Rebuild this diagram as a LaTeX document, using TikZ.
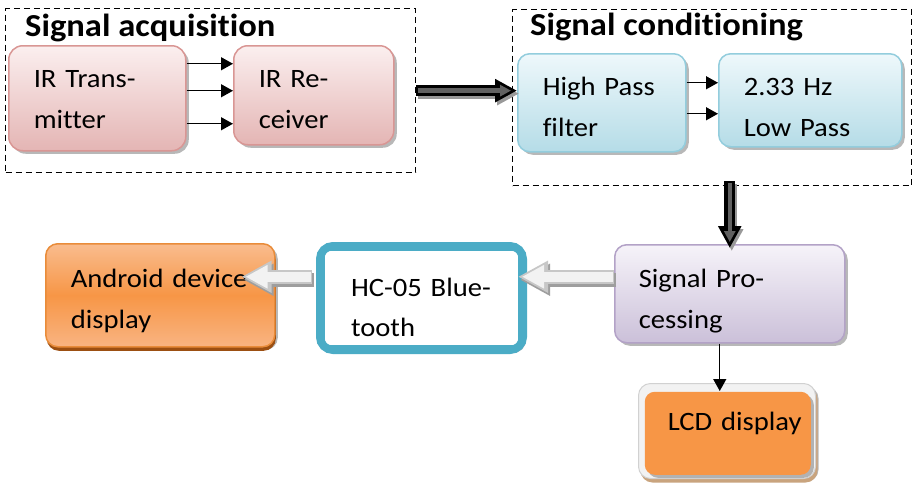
\documentclass[tikz,border=0pt]{standalone}
\usepackage{fontspec}
\setmainfont{Carlito}[FakeStretch=1.08,Ligatures=NoCommon]
\usetikzlibrary{shadows,arrows.meta,calc}
\definecolor{pinkTop}{HTML}{FBEFEF}
\definecolor{pinkBot}{HTML}{E4B5B4}
\definecolor{pinkLine}{HTML}{D99694}
\definecolor{blueTop}{HTML}{EEF8FB}
\definecolor{blueBot}{HTML}{B5DCE7}
\definecolor{blueLine}{HTML}{93CDDD}
\definecolor{purTop}{HTML}{F6F3F9}
\definecolor{purBot}{HTML}{CBC0D9}
\definecolor{purLine}{HTML}{B3A2C7}
\definecolor{orTop}{HTML}{F9BC8E}
\definecolor{orMid}{HTML}{F79646}
\definecolor{orBot}{HTML}{F9B482}
\definecolor{orLine}{HTML}{E98C3A}
\definecolor{orShadow}{HTML}{9C4F12}
\definecolor{hcTeal}{HTML}{4BACC6}
\definecolor{lcdShadow}{HTML}{C9A47E}
\newcommand\bodyfont{\fontsize{26.5}{40.5}\selectfont}
\newcommand\headfont{\fontsize{32}{36}\selectfont\bfseries}
\newcommand\twolines[3]{\rule{0pt}{#1pt}#2\\#3\rule[-7pt]{0pt}{7pt}}
\begin{document}
\begin{tikzpicture}[x=1pt,y=-1pt,
  every node/.style={inner sep=0pt},
  box/.style={rounded corners=14pt, line width=1.5pt, anchor=north west, align=left,
    inner xsep=25pt, inner ysep=0pt, font=\bodyfont,
    drop shadow={shadow xshift=3pt, shadow yshift=-3pt, opacity=0.5, fill=black!55}},
  pinkbox/.style={box, draw=pinkLine, top color=pinkTop, bottom color=pinkBot},
  bluebox/.style={box, draw=blueLine, top color=blueTop, bottom color=blueBot},
  purbox/.style={box, draw=purLine, top color=purTop, bottom color=purBot},
  orbox/.style={box, draw=orLine, top color=orTop, bottom color=orBot, middle color=orMid,
    drop shadow={shadow xshift=1pt, shadow yshift=-4pt, opacity=1, fill=orShadow}},
  dashbox/.style={draw, dash pattern=on 6pt off 4pt, line width=1.3pt, anchor=north west},
  head/.style={anchor=base west, font=\headfont},
  sarrow/.style={draw, line width=1.3pt, -{Triangle[length=12pt,width=13pt]}},
  bshadow/.style={draw=black!40, line width=11pt, -{Triangle[length=22pt,width=22pt]},
    transform canvas={xshift=2pt,yshift=-3pt}},
  bout/.style={draw=black, line width=11pt, -{Triangle[length=22pt,width=22pt]}},
  bin/.style={draw=black!62, line width=4.5pt, -{Triangle[length=11pt,width=11pt]},
    shorten >=6pt, shorten <=1.5pt},
  lshadow/.style={draw=black!38, line width=14pt, -{Triangle[length=30pt,width=30pt]},
    transform canvas={xshift=2pt,yshift=-3pt}},
  lout/.style={draw=black!22, line width=14pt, -{Triangle[length=30pt,width=30pt]}},
  lin/.style={draw=black!5, line width=10pt, -{Triangle[length=22pt,width=22pt]},
    shorten >=4pt, shorten <=1.5pt}
]
\fill[white] (0,0) rectangle (913,485);
\useasboundingbox (0,0) rectangle (913,485);

% group frames
\node[dashbox, minimum width=410pt, minimum height=164pt] (acq) at (5,8) {};
\node[dashbox, minimum width=399pt, minimum height=176pt] (cond) at (512,9) {};
\node[head] (acqh) at (25,36) {Signal acquisition};
\node[head] (condh) at (530,35) {Signal conditioning};

% blocks
\node[pinkbox, minimum width=177pt, minimum height=105pt, text width=127pt] (tx) at (8,45)
  {\twolines{26.5}{IR Trans-}{mitter}};
\node[pinkbox, minimum width=160pt, minimum height=99pt, text width=110pt] (rx) at (233,45)
  {\twolines{32.5}{IR Re-}{ceiver}};
\node[bluebox, minimum width=168pt, minimum height=98pt, text width=118pt, rounded corners=12pt] (hp) at (517,53)
  {\twolines{33.5}{High Pass}{filter}};
\node[bluebox, minimum width=183pt, minimum height=93pt, text width=133pt, rounded corners=12pt] (lp) at (718,53)
  {\twolines{38.5}{2.33 Hz}{Low Pass}};
\node[purbox, minimum width=230pt, minimum height=98pt, text width=182pt, inner xsep=24pt, rounded corners=12pt] (sp) at (614,244)
  {\twolines{35.5}{Signal Pro-}{cessing}};
\node[box, draw=hcTeal, line width=8pt, fill=white, drop shadow={opacity=0}, minimum width=203pt, minimum height=104pt,
  text width=141pt, inner xsep=31pt, rounded corners=13pt] (hc) at (316,242)
  {\twolines{43.5}{HC-05 Blue-}{tooth}};
\draw[hcTeal, line width=1.6pt, rounded corners=7pt]
  ([shift={(8pt,-8pt)}]hc.north west) rectangle ([shift={(-8pt,8pt)}]hc.south east);
\node[orbox, minimum width=229pt, minimum height=103pt, text width=179pt, rounded corners=12pt] (and) at (45,243)
  {\twolines{32.5}{Android device}{display}};
\node[box, fill=black!5, draw=black!18, line width=1pt, rounded corners=12pt, minimum width=177pt, minimum height=95pt,
  drop shadow={shadow xshift=2pt, shadow yshift=-4pt, opacity=1, fill=lcdShadow}] (lcdo) at (638,383) {};
\node[box, fill=orMid, draw=none, drop shadow={opacity=0}, rounded corners=10pt, minimum width=166pt, minimum height=83pt,
  text width=120pt, inner xsep=23pt] (lcd) at (644,391)
  {\mbox{\rule[-24pt]{0pt}{43pt}LCD display}};

% small arrows
\draw[sarrow] ([yshift=34.5pt]tx.east) -- ([yshift=34.5pt]tx.east -| rx.west);
\draw[sarrow] ([yshift=7.5pt]tx.east) -- ([yshift=7.5pt]tx.east -| rx.west);
\draw[sarrow] ([yshift=-25.5pt]tx.east) -- ([yshift=-25.5pt]tx.east -| rx.west);
\draw[sarrow] ([yshift=20pt]hp.east) -- ([yshift=20pt]hp.east -| lp.west);
\draw[sarrow] ([yshift=-11pt]hp.east) -- ([yshift=-11pt]hp.east -| lp.west);
\draw[sarrow] ([xshift=-10pt]sp.south) -- ([xshift=-10pt]sp.south |- lcd.north);

% thick dark arrows
\draw[bshadow] (acq.east) -- (acq.east -| hp.west);
\draw[bout] (acq.east) -- (acq.east -| hp.west);
\draw[bin] (acq.east) -- (acq.east -| hp.west);
\coordinate (dtop) at ([yshift=5pt]cond.south -| sp.north);
\draw[bshadow] (dtop) -- ([yshift=-4pt]sp.north);
\draw[bout] (dtop) -- ([yshift=-4pt]sp.north);
\draw[bin] (dtop) -- ([yshift=-4pt]sp.north);

% light arrows
\coordinate (spo) at ([yshift=17pt]sp.west);
\coordinate (hco) at (hc.west |- spo);
\draw[lshadow] (spo) -- ([xshift=-9pt]spo -| hc.east);
\draw[lout] (spo) -- ([xshift=-9pt]spo -| hc.east);
\draw[lin] (spo) -- ([xshift=-9pt]spo -| hc.east);
\draw[lshadow] ([xshift=-4pt]hco) -- ([xshift=-34pt]hco -| and.east);
\draw[lout] ([xshift=-4pt]hco) -- ([xshift=-34pt]hco -| and.east);
\draw[lin] ([xshift=-4pt]hco) -- ([xshift=-34pt]hco -| and.east);
\end{tikzpicture}
\end{document}
